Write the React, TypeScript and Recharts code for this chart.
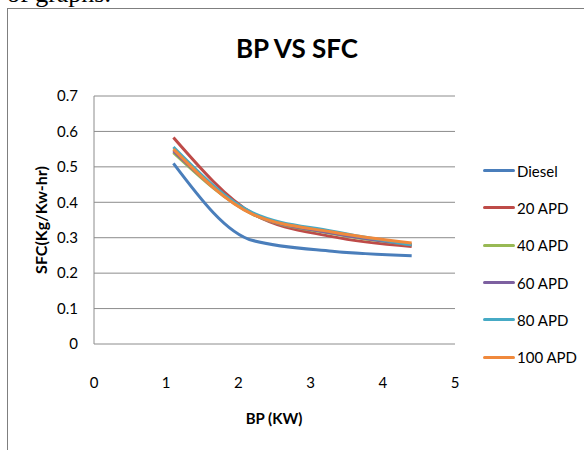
import { CartesianGrid, Line, LineChart, XAxis, YAxis } from "recharts";

const bp = [1.1, 2.2, 3.3, 4.4];
const diesel = [0.51, 0.292, 0.262, 0.249];
const apd20 = [0.583, 0.368, 0.303, 0.275];
const apd40 = [0.54, 0.366, 0.312, 0.28];
const apd60 = [0.545, 0.367, 0.313, 0.28];
const apd80 = [0.556, 0.37, 0.318, 0.28];
const apd100 = [0.55, 0.366, 0.316, 0.285];

const xTicks = [0, 1, 2, 3, 4, 5];
const yTicks = [0, 0.1, 0.2, 0.3, 0.4, 0.5, 0.6, 0.7];

const series = [
    { key: "Diesel", values: diesel, color: "#4a7ebb" },
    { key: "20 APD", values: apd20, color: "#be4b48" },
    { key: "40 APD", values: apd40, color: "#98b954" },
    { key: "60 APD", values: apd60, color: "#7d60a0" },
    { key: "80 APD", values: apd80, color: "#46aac5" },
    { key: "100 APD", values: apd100, color: "#f0893c" },
];

const data = bp.map((x, i) => {
    const row: any = { bp: x };
    series.forEach((s) => (row[s.key] = s.values[i]));
    return row;
});

const font = "Lato, 'Noto Sans', sans-serif";

export default function App() {
    return (
        <div
            style={{
                position: "fixed",
                left: 0,
                top: 0,
                width: 584,
                height: 450,
                background: "#fff",
                overflow: "hidden",
            }}
        >
            <div
                style={{
                    position: "absolute",
                    left: 7,
                    top: -19,
                    fontFamily: "'Liberation Serif', serif",
                    fontSize: 26,
                    lineHeight: "26px",
                    whiteSpace: "nowrap",
                }}
            >
                of graphs.
            </div>
            <div
                style={{
                    position: "absolute",
                    left: 7,
                    top: 8,
                    width: 600,
                    height: 460,
                    border: "1px solid #7f7f7f",
                }}
            />
            <div
                style={{
                    position: "absolute",
                    left: 297,
                    top: 48,
                    transform: "translate(-50%, -50%)",
                    fontFamily: font,
                    fontWeight: "bold",
                    fontSize: 26,
                    whiteSpace: "nowrap",
                }}
            >
                BP VS SFC
            </div>
            <div
                style={{
                    position: "absolute",
                    left: 40,
                    top: 220,
                    transform: "translate(-50%, -50%) rotate(-90deg)",
                    fontFamily: font,
                    fontWeight: "bold",
                    fontSize: 16,
                    whiteSpace: "nowrap",
                }}
            >
                SFC(Kg/Kw-hr)
            </div>
            <div
                style={{
                    position: "absolute",
                    left: 274,
                    top: 418,
                    transform: "translate(-50%, -50%)",
                    fontFamily: font,
                    fontWeight: "bold",
                    fontSize: 15,
                    whiteSpace: "nowrap",
                }}
            >
                BP (KW)
            </div>
            <div style={{ position: "absolute", left: 0, top: 0 }}>
                <LineChart
                    width={584}
                    height={450}
                    data={data}
                    margin={{ top: 96, right: 129, left: 34, bottom: 76 }}
                >
                    <CartesianGrid vertical={false} stroke="#8c8c8c" />
                    <XAxis
                        dataKey="bp"
                        type="number"
                        domain={[0, 5]}
                        ticks={xTicks}
                        tickLine={false}
                        axisLine={false}
                        height={30}
                        tickMargin={27}
                        tick={{ fill: "#000", fontSize: 15, fontFamily: font }}
                    />
                    <YAxis
                        type="number"
                        domain={[0, 0.7]}
                        ticks={yTicks}
                        width={60}
                        tickLine={false}
                        axisLine={{ stroke: "#8c8c8c" }}
                        tickMargin={10}
                        tick={{ fill: "#000", fontSize: 15, fontFamily: font }}
                    />
                    {series.map((s) => (
                        <Line
                            key={s.key}
                            dataKey={s.key}
                            type="monotone"
                            stroke={s.color}
                            strokeWidth={3}
                            dot={false}
                            isAnimationActive={false}
                        />
                    ))}
                </LineChart>
            </div>
            <div
                style={{
                    position: "absolute",
                    left: 483,
                    top: 152,
                    fontFamily: font,
                    fontSize: 15,
                    color: "#000",
                }}
            >
                {series.map((s) => (
                    <div
                        key={s.key}
                        style={{ display: "flex", alignItems: "center", height: 37.3 }}
                    >
                        <span
                            style={{
                                display: "inline-block",
                                width: 32,
                                height: 3,
                                borderRadius: 2,
                                background: s.color,
                                marginRight: 2,
                            }}
                        />
                        {s.key}
                    </div>
                ))}
            </div>
        </div>
    );
}
